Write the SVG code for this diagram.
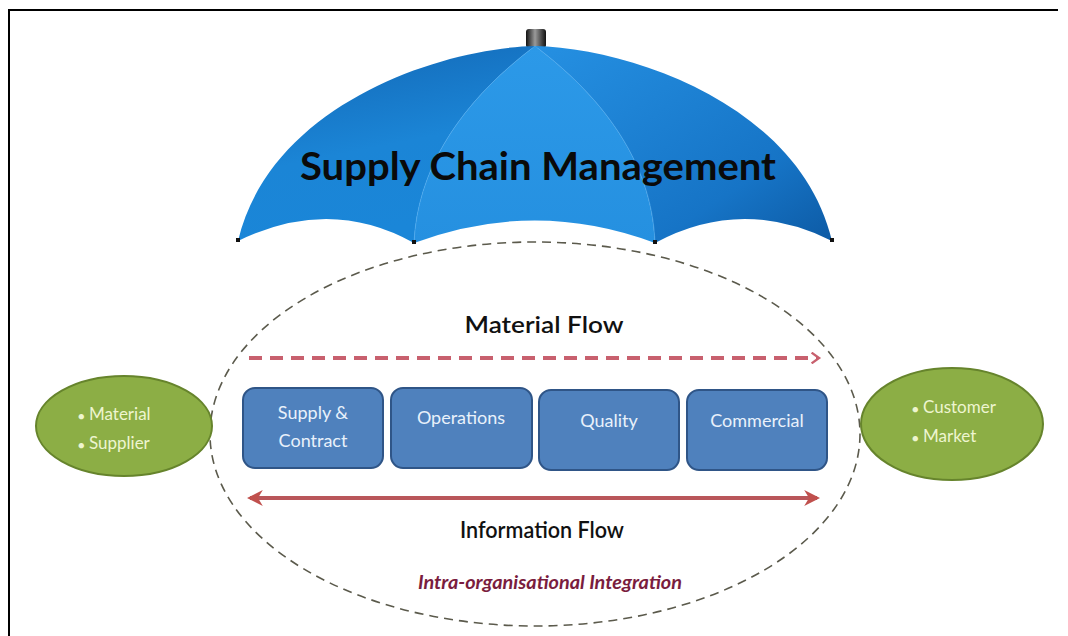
<svg xmlns="http://www.w3.org/2000/svg" width="1068" height="636" viewBox="0 0 1068 636">
  <style>
    .lbl { font-family: Lato, "Open Sans", "Liberation Sans", sans-serif; }
    .box { fill: #4f81bd; stroke: #2f5587; stroke-width: 2; }
    .box-text { font-size: 18px; fill: #e9f1fb; text-anchor: middle; }
    .oval { fill: #8cae45; stroke: #66842c; stroke-width: 2; }
    .oval-text { font-size: 17px; fill: #eef5d0; }
    .flow-label { font-size: 22px; fill: #111; text-anchor: middle; font-weight: 600; }
  </style>
  <defs>
    <linearGradient id="panelLeft" x1="0" y1="0" x2="0.3" y2="1">
      <stop offset="0" stop-color="#1266b4"/>
      <stop offset="0.6" stop-color="#1b85d6"/>
      <stop offset="1" stop-color="#1a86d8"/>
    </linearGradient>
    <linearGradient id="panelMid" x1="0" y1="0" x2="0" y2="1">
      <stop offset="0" stop-color="#2c99e8"/>
      <stop offset="1" stop-color="#2590e0"/>
    </linearGradient>
    <linearGradient id="panelRight" x1="0" y1="0" x2="1" y2="1">
      <stop offset="0" stop-color="#2590e2"/>
      <stop offset="0.7" stop-color="#1674c6"/>
      <stop offset="1" stop-color="#0d5aa4"/>
    </linearGradient>
    <linearGradient id="capShade" x1="0" y1="0" x2="1" y2="0">
      <stop offset="0" stop-color="#111"/>
      <stop offset="0.45" stop-color="#9a9a9a"/>
      <stop offset="1" stop-color="#111"/>
    </linearGradient>
    <marker id="chevron" viewBox="0 0 12 12" refX="8" refY="6" markerWidth="3.2" markerHeight="3.2" orient="auto" markerUnits="strokeWidth">
      <path d="M2,1 L9,6 L2,11" fill="none" stroke="#c8606e" stroke-width="2.2"/>
    </marker>
    <marker id="headEnd" viewBox="0 0 10 10" refX="8" refY="5" markerWidth="4" markerHeight="4" orient="auto" markerUnits="strokeWidth">
      <path d="M0,0 L10,5 L0,10 L3,5 Z" fill="#c0504d"/>
    </marker>
    <marker id="headStart" viewBox="0 0 10 10" refX="2" refY="5" markerWidth="4" markerHeight="4" orient="auto" markerUnits="strokeWidth">
      <path d="M10,0 L0,5 L10,10 L7,5 Z" fill="#c0504d"/>
    </marker>
  </defs>

  <rect width="1068" height="636" fill="#ffffff"/>
  <!-- frame -->
  <path d="M9,636 L9,10 L1058,10" fill="none" stroke="#000" stroke-width="2"/>

  <!-- umbrella canopy -->
  <g id="umbrella">
    <rect x="526" y="29" width="20" height="19" rx="3" fill="url(#capShade)"/>
    <path d="M535,46 C440,48 270,105 238,241 Q330,196 414,243 L414,243 C418,160 470,95 535,46 Z" fill="url(#panelLeft)"/>
    <path d="M535,46 C470,95 418,160 414,243 Q535,198 655,243 C652,160 600,95 535,46 Z" fill="url(#panelMid)"/>
    <path d="M535,46 C600,95 652,160 655,243 Q742,196 832,241 C800,105 630,48 535,46 Z" fill="url(#panelRight)"/>
    <path d="M535,46 C470,95 418,160 414,243 M535,46 C600,95 652,160 655,243" fill="none" stroke="#4aa8ee" stroke-width="1" opacity="0.7"/>
    <rect x="236" y="238" width="4" height="4" fill="#111"/>
    <rect x="412" y="240" width="4" height="4" fill="#111"/>
    <rect x="653" y="240" width="4" height="4" fill="#111"/>
    <rect x="830" y="238" width="4" height="4" fill="#111"/>
    <text class="lbl" x="538" y="180" font-size="39" font-weight="700" fill="#0a0a0a" text-anchor="middle" textLength="476" lengthAdjust="spacingAndGlyphs">Supply Chain Management</text>
  </g>

  <!-- organisation boundary -->
  <g id="boundary">
    <ellipse cx="535" cy="434" rx="325" ry="192" fill="none" stroke="#5b5a4c" stroke-width="1.6" stroke-dasharray="9 6"/>
    <text class="lbl" x="550" y="589" font-size="19" font-weight="700" font-style="italic" fill="#7a1d3e" text-anchor="middle" textLength="264" lengthAdjust="spacingAndGlyphs">Intra-organisational Integration</text>
  </g>

  <!-- external parties -->
  <g id="supplier-node">
    <ellipse class="oval" cx="124" cy="426" rx="88" ry="50"/>
    <text class="lbl oval-text" x="78" y="420"><tspan font-size="11">●</tspan> Material</text>
    <text class="lbl oval-text" x="78" y="449"><tspan font-size="11">●</tspan> Supplier</text>
  </g>
  <g id="customer-node">
    <ellipse class="oval" cx="952" cy="424" rx="91" ry="56"/>
    <text class="lbl oval-text" x="912" y="413"><tspan font-size="11">●</tspan> Customer</text>
    <text class="lbl oval-text" x="912" y="442"><tspan font-size="11">●</tspan> Market</text>
  </g>

  <!-- internal functions -->
  <g id="supply-contract">
    <rect class="box" x="243" y="388" width="140" height="80" rx="12"/>
    <text class="lbl box-text" x="313" y="419">Supply &amp;</text>
    <text class="lbl box-text" x="313" y="447">Contract</text>
  </g>
  <g id="operations">
    <rect class="box" x="391" y="388" width="141" height="80" rx="12"/>
    <text class="lbl box-text" x="461" y="424">Operations</text>
  </g>
  <g id="quality">
    <rect class="box" x="539" y="390" width="140" height="80" rx="12"/>
    <text class="lbl box-text" x="609" y="427">Quality</text>
  </g>
  <g id="commercial">
    <rect class="box" x="687" y="390" width="140" height="80" rx="12"/>
    <text class="lbl box-text" x="757" y="427">Commercial</text>
  </g>

  <!-- flows -->
  <g id="connectors">
    <line x1="249" y1="358" x2="818" y2="358" stroke="#c8606e" stroke-width="4" stroke-dasharray="13 8" marker-end="url(#chevron)"/>
    <line x1="250" y1="498" x2="817" y2="498" stroke="#b9565a" stroke-width="4" marker-start="url(#headStart)" marker-end="url(#headEnd)"/>
  </g>
  <text class="lbl flow-label" x="544" y="333" textLength="159" lengthAdjust="spacingAndGlyphs">Material Flow</text>
  <text class="lbl flow-label" x="542" y="538" textLength="164" lengthAdjust="spacingAndGlyphs">Information Flow</text>
</svg>
